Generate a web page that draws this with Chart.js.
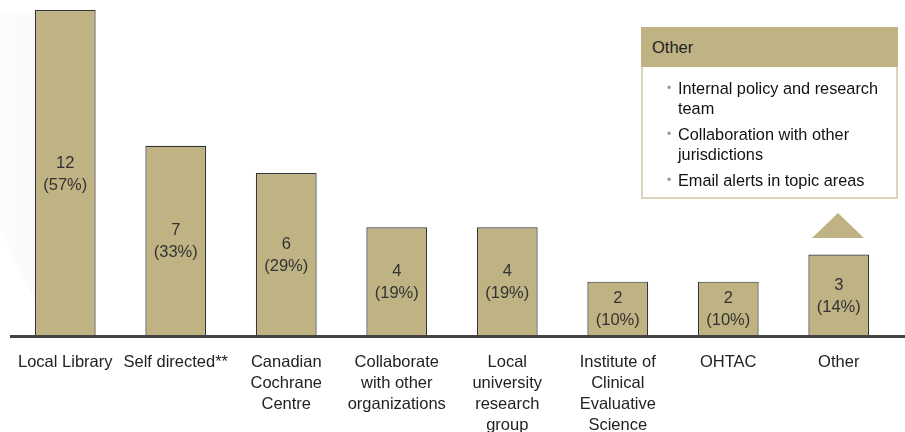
<!DOCTYPE html>
<html>
<head>
<meta charset="utf-8">
<script src="https://cdn.jsdelivr.net/npm/chart.js@4.4.1/dist/chart.umd.min.js"></script>
<style>
  body { margin: 0; background: #fff; font-family: "Liberation Sans", Arial, sans-serif; }
  #wrap { position: relative; width: 905px; height: 432px; }
  #callout {
    position: absolute; left: 641px; top: 27px; width: 253px; height: 170px;
    border: 2px solid #dcd5bb; border-top: none; background: #fff;
  }
  #callout .head {
    background: #bfb283; height: 40px; line-height: 40px; padding-left: 11px;
    font-size: 16.5px; color: #222; margin: 0 -2px;
  }
  #callout ul { margin: 11px 0 0 0; padding: 0 0 0 35px; list-style: none; }
  #callout li { position: relative; font-size: 16.3px; line-height: 20px; color: #111; margin-bottom: 6px; }
  #callout li::before { content: "\2022"; position: absolute; left: -11px; color: #999; font-size: 12px; }
  #arrow {
    position: absolute; left: 812px; top: 213px; width: 0; height: 0;
    border-left: 26px solid transparent; border-right: 26px solid transparent;
    border-bottom: 25px solid #bfb283;
  }
</style>
</head>
<body>
<div id="wrap">
  <canvas id="chart" width="905" height="432"></canvas>
  <div id="callout">
    <div class="head">Other</div>
    <ul>
      <li>Internal policy and research team</li>
      <li>Collaboration with other jurisdictions</li>
      <li>Email alerts in topic areas</li>
    </ul>
  </div>
  <div id="arrow"></div>
</div>
<script>
// Data
const categories = [
    ['Local Library'],
    ['Self directed**'],
    ['Canadian', 'Cochrane', 'Centre'],
    ['Collaborate', 'with other', 'organizations'],
    ['Local', 'university', 'research', 'group'],
    ['Institute of', 'Clinical', 'Evaluative', 'Science'],
    ['OHTAC'],
    ['Other']
];
const counts = [12, 7, 6, 4, 4, 2, 2, 3];
const percents = ['57%', '33%', '29%', '19%', '19%', '10%', '10%', '14%'];

const barColor = '#bfb283';
const fontFamily = '"Liberation Sans", Arial, sans-serif';

// faint background shape + baseline + value labels
const decorPlugin = {
    id: 'decor',
    beforeDraw(chart) {
        const ctx = chart.ctx;
        ctx.save();
        const g = ctx.createLinearGradient(0, 0, 35, 0);
        g.addColorStop(0, 'rgba(0,0,0,0.008)');
        g.addColorStop(1, 'rgba(0,0,0,0.025)');
        ctx.fillStyle = g;
        ctx.beginPath();
        ctx.moveTo(0, 13);
        ctx.lineTo(35, 13);
        ctx.lineTo(35, 300);
        ctx.lineTo(0, 230);
        ctx.closePath();
        ctx.fill();
        ctx.restore();
    },
    afterDatasetsDraw(chart) {
        const ctx = chart.ctx;
        const area = chart.chartArea;
        ctx.save();
        ctx.strokeStyle = '#444';
        ctx.lineWidth = 3;
        ctx.beginPath();
        ctx.moveTo(area.left, area.bottom + 0.5);
        ctx.lineTo(chart.width, area.bottom + 0.5);
        ctx.stroke();

        ctx.fillStyle = '#333';
        ctx.font = '16.5px ' + fontFamily;
        ctx.textAlign = 'center';
        ctx.textBaseline = 'middle';
        const meta = chart.getDatasetMeta(0);
        meta.data.forEach((bar, i) => {
            const mid = (bar.y + bar.base) / 2;
            ctx.fillText(String(counts[i]), bar.x, mid - 10);
            ctx.fillText('(' + percents[i] + ')', bar.x, mid + 12);
        });
        ctx.restore();
    }
};

new Chart(document.getElementById('chart'), {
    type: 'bar',
    data: {
        labels: categories,
        datasets: [{
            data: counts,
            backgroundColor: barColor,
            borderColor: '#333',
            borderWidth: 1.2,
            barPercentage: 0.55,
            categoryPercentage: 1
        }]
    },
    options: {
        responsive: false,
        animation: false,
        layout: { padding: { left: 10, right: 11, top: 10, bottom: 0 } },
        plugins: { legend: { display: false }, tooltip: { enabled: false } },
        scales: {
            x: {
                grid: { display: false, drawTicks: false },
                border: { display: false },
                ticks: {
                    color: '#222',
                    padding: 16,
                    maxRotation: 0,
                    autoSkip: false,
                    font: { family: fontFamily, size: 16.5, lineHeight: 1.27 }
                },
                afterFit(scale) { scale.height = 96; }
            },
            y: {
                display: false,
                min: 0,
                max: 12
            }
        }
    },
    plugins: [decorPlugin]
});
</script>
</body>
</html>
